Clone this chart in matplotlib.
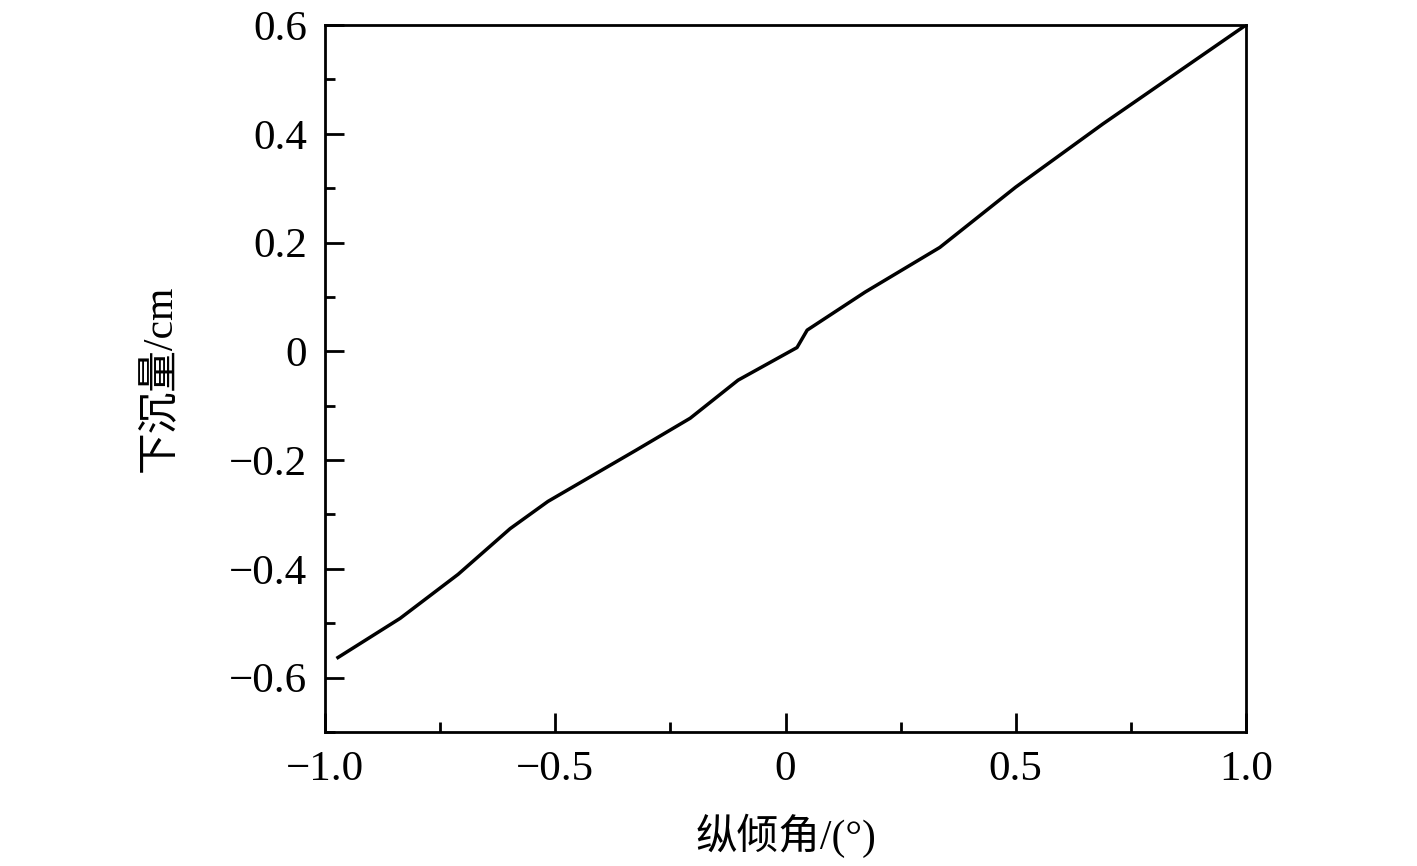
import matplotlib
matplotlib.use("Agg")
import matplotlib.pyplot as plt
from matplotlib.ticker import MultipleLocator

# 纵倾角 / 下沉量 数据
jiao = [-0.972, -0.837, -0.711, -0.598, -0.516, -0.325, -0.207, -0.103,
        0.025, 0.047, 0.173, 0.335, 0.500, 0.689, 1.000]
chen = [-0.563, -0.491, -0.410, -0.326, -0.276, -0.182, -0.123, -0.053,
        0.007, 0.039, 0.109, 0.191, 0.302, 0.418, 0.600]

xticks = [-1.0, -0.5, 0, 0.5, 1.0]
xlabels = ["\u22121.0", "\u22120.5", "0", "0.5", "1.0"]
yticks = [0.6, 0.4, 0.2, 0, -0.2, -0.4, -0.6]
ylabels = ["0.6", "0.4", "0.2", "0", "\u22120.2", "\u22120.4", "\u22120.6"]

plt.rcParams['font.family'] = ['Liberation Serif', 'Noto Sans CJK SC']

fig = plt.figure(figsize=(14.17, 8.66), dpi=100)
ax = fig.add_axes([0.2294, 0.1547, 0.6499, 0.8164])

ax.plot(jiao, chen, color='black', lw=2.5)

ax.set_xlim(-1.0, 1.0)
ax.set_ylim(-0.7, 0.6)
ax.set_xticks(xticks)
ax.set_xticklabels(xlabels)
ax.set_yticks(yticks)
ax.set_yticklabels(ylabels)
ax.xaxis.set_minor_locator(MultipleLocator(0.25))
ax.yaxis.set_minor_locator(MultipleLocator(0.1))
ax.tick_params(which='both', direction='in', top=False, right=False, width=2, labelsize=31)
ax.tick_params(which='major', length=14, pad=13)
ax.tick_params(which='minor', length=7)
for s in ax.spines.values():
    s.set_linewidth(2)

ax.set_xlabel('纵倾角/(°)', fontsize=30, labelpad=18)
ax.set_ylabel('下沉量/cm', fontsize=30, labelpad=36)

fig.savefig('out.png', dpi=100)
